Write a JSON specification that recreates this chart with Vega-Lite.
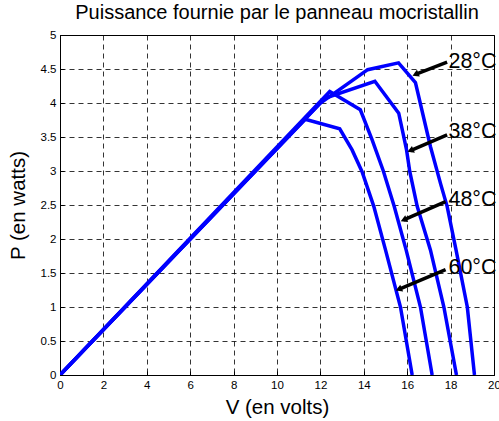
{
  "$schema": "https://vega.github.io/schema/vega-lite/v6.json",
  "autosize": {"type": "none"},
  "padding": {"left": 60, "top": 35, "right": 5, "bottom": 46},
  "width": 434,
  "height": 340,
  "background": "white",
  "config": {
    "font": "Liberation Sans",
    "view": {"stroke": "black", "strokeWidth": 1},
    "axis": {
      "domainColor": "black",
      "tickColor": "black",
      "labelColor": "black",
      "titleColor": "black",
      "labelFont": "Liberation Sans",
      "titleFont": "Liberation Sans",
      "labelFontSize": 11.5,
      "titleFontSize": 20.5,
      "titleFontWeight": "normal",
      "gridColor": "black",
      "gridDash": [5, 4],
      "gridOpacity": 1,
      "gridWidth": 0.8,
      "tickSize": -4,
      "labelPadding": 8,
      "labelOverlap": false,
      "labelBound": false,
      "labelFlush": false
    }
  },
  "title": {
    "text": "Puissance fournie par le panneau mocristallin",
    "font": "Liberation Sans",
    "fontSize": 20,
    "fontWeight": "normal",
    "color": "black",
    "anchor": "middle",
    "offset": 6
  },
  "datasets": {
    "curves": [
      {"T": "28", "V": 0, "P": 0},
      {"T": "28", "V": 12.0, "P": 4.0},
      {"T": "28", "V": 14.18, "P": 4.49},
      {"T": "28", "V": 15.6, "P": 4.59},
      {"T": "28", "V": 16.38, "P": 4.3},
      {"T": "28", "V": 17.07, "P": 3.36},
      {"T": "28", "V": 17.55, "P": 2.8},
      {"T": "28", "V": 17.84, "P": 2.48},
      {"T": "28", "V": 18.25, "P": 1.84},
      {"T": "28", "V": 18.77, "P": 1.0},
      {"T": "28", "V": 19.1, "P": 0},
      {"T": "38", "V": 0, "P": 0},
      {"T": "38", "V": 12.2, "P": 4.07},
      {"T": "38", "V": 14.51, "P": 4.32},
      {"T": "38", "V": 15.61, "P": 3.85},
      {"T": "38", "V": 15.97, "P": 3.31},
      {"T": "38", "V": 16.12, "P": 2.99},
      {"T": "38", "V": 16.46, "P": 2.48},
      {"T": "38", "V": 17.07, "P": 1.84},
      {"T": "38", "V": 17.69, "P": 1.0},
      {"T": "38", "V": 18.27, "P": 0},
      {"T": "48", "V": 0, "P": 0},
      {"T": "48", "V": 12.43, "P": 4.17},
      {"T": "48", "V": 13.84, "P": 3.9},
      {"T": "48", "V": 14.38, "P": 3.46},
      {"T": "48", "V": 14.9, "P": 3.0},
      {"T": "48", "V": 15.4, "P": 2.48},
      {"T": "48", "V": 15.95, "P": 1.84},
      {"T": "48", "V": 16.61, "P": 1.0},
      {"T": "48", "V": 17.15, "P": 0},
      {"T": "60", "V": 0, "P": 0},
      {"T": "60", "V": 11.3, "P": 3.76},
      {"T": "60", "V": 12.89, "P": 3.62},
      {"T": "60", "V": 13.46, "P": 3.31},
      {"T": "60", "V": 13.92, "P": 2.99},
      {"T": "60", "V": 14.46, "P": 2.48},
      {"T": "60", "V": 15.0, "P": 1.84},
      {"T": "60", "V": 15.69, "P": 1.0},
      {"T": "60", "V": 16.23, "P": 0}
    ],
    "notes": [
      {"label": "28°C", "Vt": 17.9, "Pt": 4.6, "V0": 17.84, "P0": 4.6, "V1": 16.38, "P1": 4.42},
      {"label": "38°C", "Vt": 17.9, "Pt": 3.58, "V0": 17.84, "P0": 3.53, "V1": 16.15, "P1": 3.3},
      {"label": "48°C", "Vt": 17.9, "Pt": 2.58, "V0": 17.77, "P0": 2.55, "V1": 15.84, "P1": 2.28},
      {"label": "60°C", "Vt": 17.9, "Pt": 1.58, "V0": 17.77, "P0": 1.55, "V1": 15.61, "P1": 1.26}
    ]
  },
  "layer": [
    {
      "data": {"name": "curves"},
      "mark": {"type": "line", "color": "#0000FF", "strokeWidth": 3.5, "clip": true},
      "encoding": {
        "x": {
          "field": "V", "type": "quantitative",
          "scale": {"domain": [0, 20], "nice": false},
          "axis": {"values": [0, 2, 4, 6, 8, 10, 12, 14, 16, 18, 20], "format": "~g", "title": "V (en volts)", "titlePadding": 7}
        },
        "y": {
          "field": "P", "type": "quantitative",
          "scale": {"domain": [0, 5], "nice": false},
          "axis": {"values": [0, 0.5, 1, 1.5, 2, 2.5, 3, 3.5, 4, 4.5, 5], "format": "~g", "title": "P (en watts)", "titlePadding": 12}
        },
        "detail": {"field": "T"}
      }
    },
    {
      "data": {"name": "notes"},
      "mark": {"type": "rule", "color": "black", "strokeWidth": 3.5},
      "encoding": {
        "x": {"field": "V0", "type": "quantitative", "axis": {"values": [0, 2, 4, 6, 8, 10, 12, 14, 16, 18, 20], "format": "~g", "title": "V (en volts)", "titlePadding": 7}},
        "y": {"field": "P0", "type": "quantitative", "axis": {"values": [0, 0.5, 1, 1.5, 2, 2.5, 3, 3.5, 4, 4.5, 5], "format": "~g", "title": "P (en watts)", "titlePadding": 12}},
        "x2": {"field": "V1"},
        "y2": {"field": "P1"}
      }
    },
    {
      "data": {"name": "notes"},
      "mark": {"type": "point", "shape": "triangle-up", "filled": true, "color": "black", "opacity": 1, "size": 55, "angle": 247},
      "encoding": {
        "x": {"field": "V1", "type": "quantitative", "axis": {"values": [0, 2, 4, 6, 8, 10, 12, 14, 16, 18, 20], "format": "~g", "title": "V (en volts)", "titlePadding": 7}},
        "y": {"field": "P1", "type": "quantitative", "axis": {"values": [0, 0.5, 1, 1.5, 2, 2.5, 3, 3.5, 4, 4.5, 5], "format": "~g", "title": "P (en watts)", "titlePadding": 12}}
      }
    },
    {
      "data": {"name": "notes"},
      "mark": {"type": "text", "align": "left", "baseline": "middle", "fontSize": 21.5, "font": "Liberation Sans", "color": "black"},
      "encoding": {
        "x": {"field": "Vt", "type": "quantitative", "axis": {"values": [0, 2, 4, 6, 8, 10, 12, 14, 16, 18, 20], "format": "~g", "title": "V (en volts)", "titlePadding": 7}},
        "y": {"field": "Pt", "type": "quantitative", "axis": {"values": [0, 0.5, 1, 1.5, 2, 2.5, 3, 3.5, 4, 4.5, 5], "format": "~g", "title": "P (en watts)", "titlePadding": 12}},
        "text": {"field": "label"}
      }
    }
  ]
}
